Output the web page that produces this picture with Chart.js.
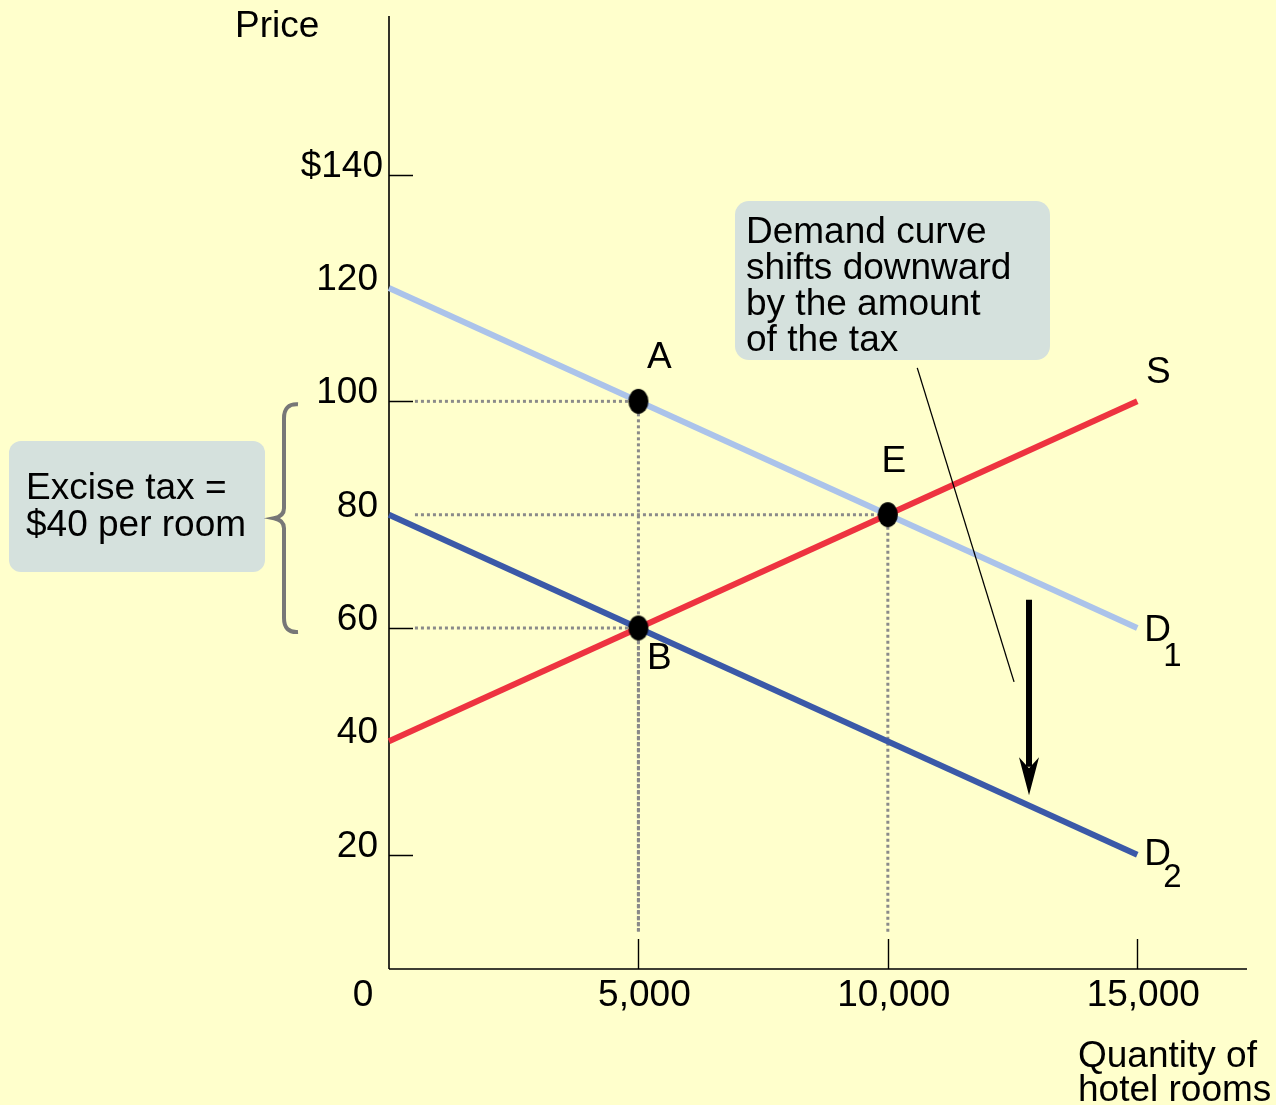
<!DOCTYPE html>
<html>
<head>
<meta charset="utf-8">
<script src="https://cdn.jsdelivr.net/npm/chart.js@4/dist/chart.umd.min.js"></script>
<style>
  html, body { margin: 0; padding: 0; background: #ffffcc; }
  #wrap { width: 1276px; height: 1105px; }
</style>
</head>
<body>
<div id="wrap"><canvas id="c" width="1276" height="1105"></canvas></div>
<script>
// Hotel-room market: quantity of rooms (x) against price per room (y)
const quantities   = [0, 15000];
const demandBefore = [120, 60];   // D1
const demandAfter  = [80, 20];    // D2, after the $40 excise tax
const supply       = [40, 100];   // S

const pointNames = ['A', 'E', 'B'];
const pointQty   = [5000, 10000, 5000];
const pointPrice = [100, 80, 60];

const priceTickValues = [140, 120, 100, 80, 60, 40, 20];
const priceTickLabels = ['$140', '120', '100', '80', '60', '40', '20'];
const priceTickMarks  = [140, 100, 60, 20];
const qtyTickValues   = [0, 5000, 10000, 15000];
const qtyTickLabels   = ['0', '5,000', '10,000', '15,000'];
const qtyTickMarks    = [5000, 10000, 15000];

const guideStartQty   = 520;   // dotted guides start just right of the price axis
const guideFloorPrice = 6.4;   // dotted guides stop just above the quantity axis

const taxBracket  = [100, 60];         // price range covered by the tax brace
const shiftArrowQty = 12830;
const shiftArrowPrice = [65, 30.5];    // arrow top, arrow tip
const leaderQty   = [10590, 12530];
const leaderPrice = [105.9, 50.5];

const FONT = "'Liberation Sans', Arial, Helvetica, sans-serif";
const FS = 37;

function pairs(xs, ys) { return xs.map((x, i) => ({ x, y: ys[i] })); }

function ellipseDot() {
  const c = document.createElement('canvas');
  c.width = 22; c.height = 27;
  const g = c.getContext('2d');
  g.fillStyle = '#000';
  g.beginPath();
  g.ellipse(11, 13.5, 10, 12.5, 0, 0, Math.PI * 2);
  g.fill();
  return c;
}

// dotted guide lines from each labelled point to both axes
const guideSets = [];
pointQty.forEach((q, i) => {
  const p = pointPrice[i];
  const common = {
    showLine: true, pointRadius: 0, borderColor: '#8a8a8a', borderWidth: 3,
    borderDash: [3, 3], borderCapStyle: 'butt', fill: false, order: 10, clip: false
  };
  guideSets.push(Object.assign({ data: [{ x: guideStartQty, y: p }, { x: q, y: p }] }, common));
  guideSets.push(Object.assign({ data: [{ x: q, y: p }, { x: q, y: guideFloorPrice }] }, common));
});

function curve(ys, color, order) {
  return {
    data: pairs(quantities, ys), showLine: true, pointRadius: 0,
    borderColor: color, borderWidth: 6, borderCapStyle: 'butt', fill: false, order, clip: false
  };
}

const datasets = [
  ...guideSets,
  curve(demandBefore, '#abc3ea', 6),
  curve(demandAfter, '#3b59a8', 5),
  curve(supply, '#ee3340', 4),
  {
    data: [{ x: leaderQty[0], y: leaderPrice[0] }, { x: leaderQty[1], y: leaderPrice[1] }],
    showLine: true, pointRadius: 0, borderColor: '#000', borderWidth: 1.3, order: 3, clip: false
  },
  {
    data: [{ x: shiftArrowQty, y: shiftArrowPrice[0] }, { x: shiftArrowQty, y: shiftArrowPrice[1] + 5 }],
    showLine: true, pointRadius: 0, borderColor: '#000', borderWidth: 6, borderCapStyle: 'butt', order: 2, clip: false
  },
  {
    data: pairs(pointQty, pointPrice), showLine: false,
    pointStyle: ellipseDot(), pointRadius: 12, order: 1, clip: false
  }
];

function roundBox(ctx, x, y, w, h, r, fill) {
  ctx.beginPath();
  ctx.moveTo(x + r, y);
  ctx.arcTo(x + w, y, x + w, y + h, r);
  ctx.arcTo(x + w, y + h, x, y + h, r);
  ctx.arcTo(x, y + h, x, y, r);
  ctx.arcTo(x, y, x + w, y, r);
  ctx.closePath();
  ctx.fillStyle = fill;
  ctx.fill();
}

const overlay = {
  id: 'overlay',
  beforeDraw(chart) {
    const ctx = chart.ctx, xs = chart.scales.x, ys = chart.scales.y, area = chart.chartArea;
    ctx.save();
    ctx.fillStyle = '#ffffcc';
    ctx.fillRect(0, 0, chart.width, chart.height);

    const x0 = xs.getPixelForValue(0), y0 = ys.getPixelForValue(0);

    // axes
    ctx.strokeStyle = '#000';
    ctx.lineWidth = 1.6;
    ctx.beginPath();
    ctx.moveTo(x0, area.top); ctx.lineTo(x0, y0 + 1);
    ctx.moveTo(x0, y0 + 1); ctx.lineTo(area.right, y0 + 1);
    ctx.stroke();

    ctx.lineWidth = 1.4;
    ctx.beginPath();
    priceTickMarks.forEach(v => {
      const y = Math.round(ys.getPixelForValue(v)) + 0.5;
      ctx.moveTo(x0, y); ctx.lineTo(x0 + 24, y);
    });
    qtyTickMarks.forEach(v => {
      const x = Math.round(xs.getPixelForValue(v)) + 0.5;
      ctx.moveTo(x, y0 + 1); ctx.lineTo(x, y0 - 29);
    });
    ctx.stroke();

    // tick labels
    ctx.fillStyle = '#000';
    ctx.font = FS + 'px ' + FONT;
    ctx.textAlign = 'right';
    ctx.textBaseline = 'alphabetic';
    priceTickValues.forEach((v, i) => {
      const dx = i === 0 ? 6 : 11;
      ctx.fillText(priceTickLabels[i], x0 - dx, ys.getPixelForValue(v) + 2);
    });
    ctx.textAlign = 'center';
    qtyTickValues.forEach((v, i) => {
      const x = v === 0 ? x0 - 26 : xs.getPixelForValue(v) + 6;
      ctx.fillText(qtyTickLabels[i], x, y0 + 38);
    });

    // axis titles
    ctx.textAlign = 'left';
    ctx.fillText('Price', 235, 37);
    ctx.fillText('Quantity of', 1078, 1067);
    ctx.fillText('hotel rooms', 1078, 1101);

    // annotation boxes
    roundBox(ctx, 735, 201, 315, 159, 14, '#d5e1dd');
    roundBox(ctx, 9, 441, 256, 131, 12, '#d5e1dd');
    ctx.fillStyle = '#000';
    ['Demand curve', 'shifts downward', 'by the amount', 'of the tax'].forEach((t, i) => {
      ctx.fillText(t, 746, 243 + i * 36);
    });
    ctx.fillText('Excise tax =', 26, 499);
    ctx.fillText('$40 per room', 26, 536);

    // brace spanning the tax
    const yt = ys.getPixelForValue(taxBracket[0]) + 3;
    const yb = ys.getPixelForValue(taxBracket[1]) + 4;
    const ym = (yt + yb) / 2;
    ctx.strokeStyle = '#777777';
    ctx.lineWidth = 4;
    ctx.lineCap = 'butt';
    ctx.beginPath();
    ctx.moveTo(298, yt);
    ctx.quadraticCurveTo(284, yt - 1, 284, yt + 14);
    ctx.lineTo(284, ym - 10);
    ctx.quadraticCurveTo(284, ym - 2, 274, ym);
    ctx.quadraticCurveTo(284, ym + 2, 284, ym + 10);
    ctx.lineTo(284, yb - 14);
    ctx.quadraticCurveTo(284, yb + 1, 298, yb);
    ctx.stroke();
    ctx.restore();
  },
  afterDatasetsDraw(chart) {
    const ctx = chart.ctx, xs = chart.scales.x, ys = chart.scales.y;
    ctx.save();
    ctx.fillStyle = '#000';
    ctx.font = FS + 'px ' + FONT;
    ctx.textBaseline = 'alphabetic';

    // point labels
    const offsets = { A: [21, -33], E: [6, -43], B: [21, 41] };
    ctx.textAlign = 'center';
    pointNames.forEach((n, i) => {
      const px = xs.getPixelForValue(pointQty[i]), py = ys.getPixelForValue(pointPrice[i]);
      ctx.fillText(n, px + offsets[n][0], py + offsets[n][1]);
    });

    // curve labels
    const qEnd = quantities[quantities.length - 1];
    const xe = xs.getPixelForValue(qEnd);
    ctx.fillText('S', xe + 21, ys.getPixelForValue(supply[1]) - 18);
    ctx.textAlign = 'left';
    const yd1 = ys.getPixelForValue(demandBefore[1]);
    const yd2 = ys.getPixelForValue(demandAfter[1]);
    ctx.fillText('D', xe + 7, yd1 + 13);
    ctx.fillText('D', xe + 7, yd2 + 10);
    ctx.font = '33px ' + FONT;
    ctx.fillText('1', xe + 26, yd1 + 38);
    ctx.fillText('2', xe + 26, yd2 + 32);

    // arrowhead of the downward shift
    const tx = xs.getPixelForValue(shiftArrowQty), ty = ys.getPixelForValue(shiftArrowPrice[1]);
    ctx.beginPath();
    ctx.moveTo(tx, ty);
    ctx.lineTo(tx - 10, ty - 38);
    ctx.lineTo(tx, ty - 27);
    ctx.lineTo(tx + 10, ty - 38);
    ctx.closePath();
    ctx.fill();
    ctx.restore();
  }
};

new Chart(document.getElementById('c'), {
  type: 'scatter',
  data: { datasets },
  options: {
    responsive: false,
    animation: false,
    events: [],
    layout: { padding: { left: 389, top: 16, right: 29, bottom: 137 } },
    plugins: { legend: { display: false }, tooltip: { enabled: false } },
    scales: {
      x: { type: 'linear', min: 0, max: 17200, display: false },
      y: { type: 'linear', min: 0, max: 168, display: false }
    }
  },
  plugins: [overlay]
});
</script>
</body>
</html>
